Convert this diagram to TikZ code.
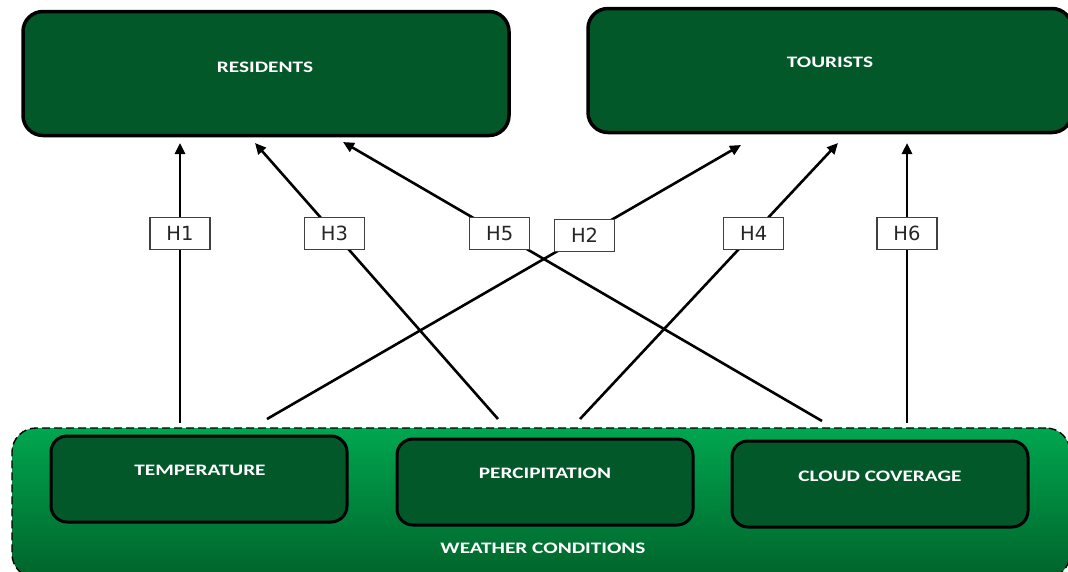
\documentclass[tikz,border=0pt]{standalone}
\usepackage{fontspec}
\setmainfont{Carlito}
\newfontfamily\labfont{DejaVu Sans}
\usetikzlibrary{arrows.meta}
\definecolor{dkgreen}{RGB}{3,88,42}
\definecolor{gtop}{RGB}{0,166,80}
\definecolor{gbot}{RGB}{0,100,42}
\newcommand{\wide}[1]{\scalebox{1.33}[1]{#1}}
\begin{document}
\begin{tikzpicture}[x=1pt,y=-1pt,
  bigbox/.style={draw=black, line width=3.5pt, fill=dkgreen, rounded corners=20pt, inner sep=0pt},
  inbox/.style={draw=black, line width=3pt, fill=dkgreen, rounded corners=16pt, inner sep=0pt, minimum width=296pt, minimum height=86pt},
  ttl/.style={text=white, font=\bfseries\fontsize{16}{19}\selectfont},
  arr/.style={line width=2.6pt, -{Triangle[length=11pt,width=10pt]}},
  lab/.style={draw=black!75, line width=1.1pt, fill=white, minimum width=60pt, minimum height=32pt, inner sep=0pt, font=\labfont\fontsize{19.5}{22}\selectfont, text=black!85}]
\useasboundingbox (0,0) rectangle (1068,571);
% top boxes
\node[bigbox, minimum width=486pt, minimum height=124pt] (res) at (266,73.5) {};
\node[ttl] (rest) at (265,67) {\wide{RESIDENTS}};
\node[bigbox, minimum width=484pt, minimum height=124pt] (tou) at (830,70.5) {};
\node[ttl] (tout) at (830,62) {\wide{TOURISTS}};
% weather container
\node[draw=black, dash pattern=on 8pt off 4pt, line width=1.4pt, rounded corners=24pt, top color=gtop, bottom color=gbot, minimum width=1058pt, minimum height=150pt, inner sep=0pt] (wea) at (541,503) {};
\node[ttl] (weat) at (543,548) {\wide{WEATHER CONDITIONS}};
\node[inbox] (temp) at (199,479) {};
\node[ttl] (tempt) at (200,470) {\wide{TEMPERATURE}};
\node[inbox] (perc) at (545,482) {};
\node[ttl] (perct) at (545,473) {\wide{PERCIPITATION}};
\node[inbox] (cloud) at (880,484) {};
\node[ttl] (cloudt) at (880,476) {\wide{CLOUD COVERAGE}};
% connector end points
\coordinate (s1) at (180,423);
\coordinate (e1) at (180,143);
\coordinate (s3) at (498,419);
\coordinate (e3) at (255,143);
\coordinate (s5) at (822,421);
\coordinate (e5) at (343,142);
\coordinate (s2) at (267,419);
\coordinate (e2) at (741,145);
\coordinate (s4) at (580,419);
\coordinate (e4) at (838,143);
\coordinate (s6) at (907,423);
\coordinate (e6) at (907,143);
\draw[arr] (s1) -- node[lab, pos=0.677] (h1) {H1} (e1);
\draw[arr] (s3) -- node[lab, pos=0.673] (h3) {H3} (e3);
\draw[arr] (s5) -- node[lab, pos=0.673] (h5) {H5} (e5);
\draw[arr] (s2) -- node[lab, pos=0.670] (h2) {H2} (e2);
\draw[arr] (s4) -- node[lab, pos=0.673] (h4) {H4} (e4);
\draw[arr] (s6) -- node[lab, pos=0.677] (h6) {H6} (e6);
\end{tikzpicture}
\end{document}
